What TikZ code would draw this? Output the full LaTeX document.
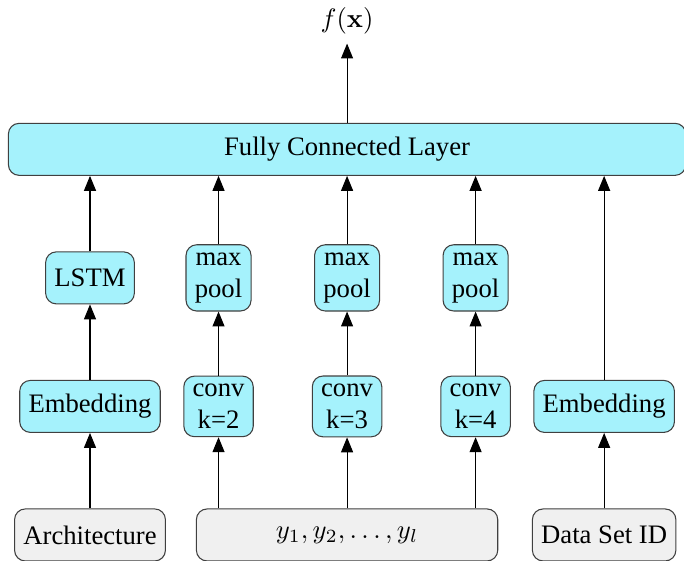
\documentclass[tikz,border=0pt]{standalone}
\usepackage[no-math]{fontspec}
\setmainfont{Liberation Serif}
\usetikzlibrary{arrows.meta,positioning}
\definecolor{layercyan}{HTML}{A5F2FC}
\definecolor{inputgray}{HTML}{F0F0F0}

\begin{document}
\begin{tikzpicture}[node distance=48.2pt,on grid,>={Triangle[width=4.5pt,length=5.6pt]},
    layer/.style={draw=black!75,fill=layercyan,rounded corners=4pt,align=center,
        inner xsep=3.3pt,inner ysep=3pt,minimum height=19.5pt},
    input/.style={layer,fill=inputgray}]
                \useasboundingbox (-33.75pt,-9.4pt) rectangle (222.75pt,200.6pt);
                % inputs
                \node[input] (arch) at (0,0) {Architecture};
                \node[input,minimum width=113pt] (seq) [right=96.4pt of arch] {$y_1,y_2,\ldots,y_l$};
                \node[input] (dsid) [right=96.4pt of seq] {Data Set ID};
                % first layer
                \node[layer] (emb_a) [above=of arch] {Embedding};
                \node[layer] (conv_3) [above=of seq] {conv\\k=3};
                \node[layer] (conv_2) [left=of conv_3] {conv\\k=2};
                \node[layer] (conv_4) [right=of conv_3] {conv\\k=4};
                \node[layer] (emb_b) [above=of dsid] {Embedding};
                % second layer
                \node[layer] (lstm) [above=of emb_a] {LSTM};
                \node[layer] (pool_2) [above=of conv_2] {max\\pool};
                \node[layer] (pool_3) [above=of conv_3] {max\\pool};
                \node[layer] (pool_4) [above=of conv_4] {max\\pool};
                % output
                \node[layer,minimum width=254pt] (fc) [above=of pool_3] {Fully Connected Layer};
                \node (out) [above=of fc] {$f(\mathbf{x})$};
                \path[->]
                (arch) edge (emb_a)
                (emb_a) edge (lstm)
                (lstm) edge (fc.south -| lstm)
                (seq.north -| conv_2) edge (conv_2)
                (seq.north -| conv_3) edge (conv_3)
                (seq.north -| conv_4) edge (conv_4)
                (conv_2) edge (pool_2)
                (conv_3) edge (pool_3)
                (conv_4) edge (pool_4)
                (pool_2) edge (fc.south -| pool_2)
                (pool_3) edge (fc.south -| pool_3)
                (pool_4) edge (fc.south -| pool_4)
                (dsid) edge (emb_b)
                (emb_b) edge (fc.south -| emb_b)
                (fc) edge (out);
            \end{tikzpicture}
\end{document}
